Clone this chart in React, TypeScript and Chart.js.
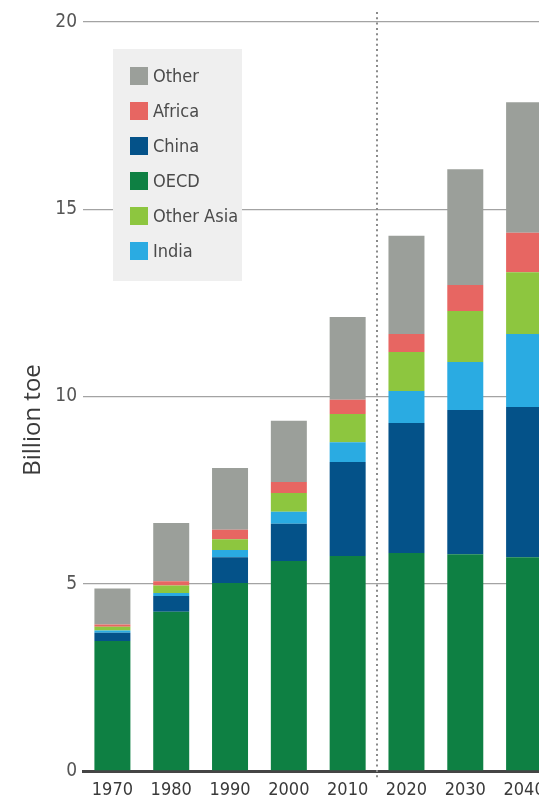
import React, { useEffect, useRef } from "react";
import { Chart, registerables } from "chart.js";

Chart.register(...registerables);

const years = ["1970", "1980", "1990", "2000", "2010", "2020", "2030", "2040"];
const oecd = [3.47, 4.25, 5.02, 5.61, 5.74, 5.82, 5.79, 5.71];
const china = [0.22, 0.42, 0.69, 0.99, 2.51, 3.47, 3.85, 4.01];
const india = [0.06, 0.08, 0.19, 0.32, 0.53, 0.86, 1.28, 1.95];
const otherAsia = [0.1, 0.2, 0.29, 0.5, 0.75, 1.04, 1.36, 1.65];
const africa = [0.06, 0.12, 0.25, 0.3, 0.38, 0.48, 0.7, 1.05];
const other = [0.96, 1.55, 1.65, 1.63, 2.21, 2.62, 3.09, 3.49];
const yTicks = [0, 5, 10, 15, 20];
const legendOrder = ["Other", "Africa", "China", "OECD", "Other Asia", "India"];
const axisTitle = "Billion toe";

const COLORS: Record<string, string> = {
  OECD: "#0e8043",
  China: "#045289",
  India: "#2aabe2",
  "Other Asia": "#8dc63f",
  Africa: "#e76662",
  Other: "#9b9f9a",
};

const NARROW = "'Liberation Sans Narrow', 'DejaVu Sans Condensed', 'Roboto', sans-serif";

const dividerPlugin = {
  id: "divider",
  afterDatasetsDraw(chart: any) {
    const { ctx, chartArea, scales } = chart;
    const x = (scales.x.getPixelForTick(4) + scales.x.getPixelForTick(5)) / 2;
    ctx.save();
    ctx.strokeStyle = "#8a8a8a";
    ctx.lineWidth = 2;
    ctx.setLineDash([2, 3.3]);
    ctx.beginPath();
    ctx.moveTo(Math.round(x), chartArea.top - 10);
    ctx.lineTo(Math.round(x), chartArea.bottom + 7);
    ctx.stroke();
    ctx.restore();
  },
};

const legendPlugin = {
  id: "boxLegend",
  afterDraw(chart: any) {
    const { ctx } = chart;
    const bx = 113, by = 49, bw = 129, bh = 232;
    ctx.save();
    ctx.fillStyle = "#efefef";
    ctx.fillRect(bx, by, bw, bh);
    ctx.font = `18px ${NARROW}`;
    ctx.textBaseline = "middle";
    ctx.textAlign = "left";
    legendOrder.forEach((name, i) => {
      const ds = chart.data.datasets.find((d: any) => d.label === name);
      const cy = 76 + i * 35;
      ctx.fillStyle = ds.backgroundColor;
      ctx.fillRect(130, cy - 9, 18, 18);
      ctx.fillStyle = "#4a4a4a";
      ctx.fillText(name, 153, cy + 1);
    });
    ctx.restore();
  },
};

const titlePlugin = {
  id: "sideTitle",
  afterDraw(chart: any) {
    const { ctx } = chart;
    ctx.save();
    ctx.translate(33, 420);
    ctx.rotate(-Math.PI / 2);
    ctx.font = "24px 'Open Sans', sans-serif";
    ctx.fillStyle = "#3a3a3a";
    ctx.textAlign = "center";
    ctx.textBaseline = "middle";
    ctx.fillText(axisTitle, 0, 0);
    ctx.restore();
  },
};

export default function App() {
  const ref = useRef<HTMLCanvasElement | null>(null);

  useEffect(() => {
    if (!ref.current) return;
    const series: [string, number[]][] = [
      ["OECD", oecd],
      ["China", china],
      ["India", india],
      ["Other Asia", otherAsia],
      ["Africa", africa],
      ["Other", other],
    ];
    const chart = new Chart(ref.current, {
      type: "bar",
      data: {
        labels: years,
        datasets: series.map(([label, data]) => ({
          label,
          data,
          backgroundColor: COLORS[label],
          borderWidth: 0,
          barPercentage: 0.612,
          categoryPercentage: 1,
        })),
      },
      options: {
        responsive: false,
        animation: false,
        devicePixelRatio: 1,
        layout: { padding: { top: 22, right: 6.5, bottom: 0, left: 0 } },
        plugins: {
          legend: { display: false },
          tooltip: { enabled: false },
        },
        scales: {
          x: {
            stacked: true,
            grid: { display: false, drawTicks: false },
            border: { display: true, color: "#454545", width: 3 },
            ticks: {
              padding: 9,
              color: "#3a3a3a",
              font: { family: NARROW, size: 18 },
              maxRotation: 0,
              autoSkip: false,
            },
            afterFit: (s: any) => {
              s.height = 31;
            },
          },
          y: {
            stacked: true,
            min: 0,
            max: 20,
            afterBuildTicks: (s: any) => {
              s.ticks = yTicks.map((v) => ({ value: v }));
            },
            grid: { color: "#a3a3a3", lineWidth: 1.3, drawTicks: false },
            border: { display: false },
            ticks: {
              padding: 6,
              color: "#555555",
              font: { family: NARROW, size: 19 },
            },
            afterFit: (s: any) => {
              s.width = 83;
            },
          },
        },
      },
      plugins: [dividerPlugin, legendPlugin, titlePlugin],
    });
    return () => chart.destroy();
  }, []);

  return (
    <div
      style={{
        position: "fixed",
        left: 0,
        top: 0,
        width: 539,
        height: 802,
        overflow: "hidden",
        background: "#ffffff",
      }}
    >
      <canvas ref={ref} width={560} height={802} style={{ width: 560, height: 802, display: "block" }} />
    </div>
  );
}
